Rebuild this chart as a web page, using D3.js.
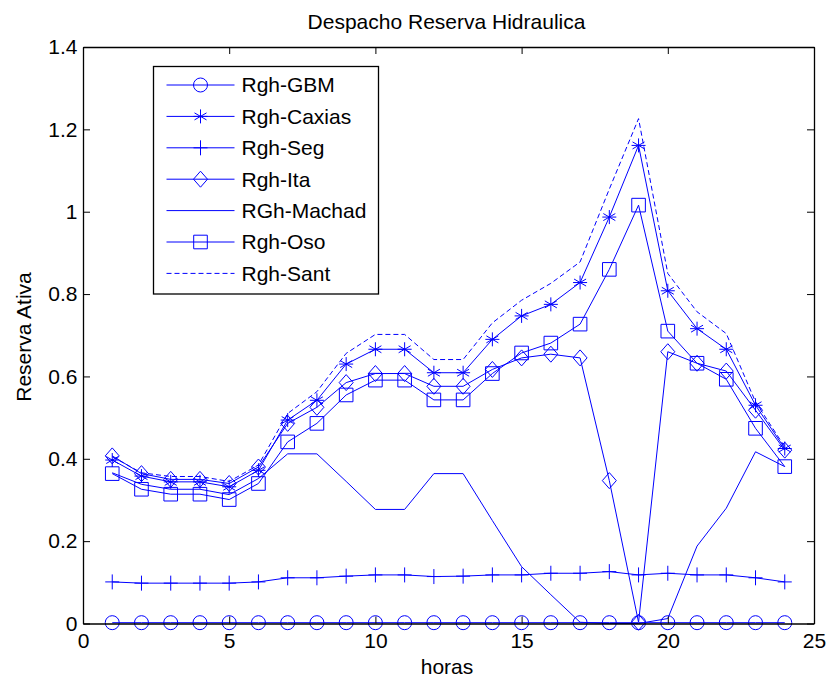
<!DOCTYPE html>
<html>
<head>
<meta charset="utf-8">
<script src="https://cdn.jsdelivr.net/npm/d3@7"></script>
<style>
  body { margin: 0; background: #fff; }
  text { font-family: Arial, "Liberation Sans", sans-serif; fill: #000; }
</style>
</head>
<body>
<svg id="vis"></svg>
<script>
// hours on the x axis
var horas = [1, 2, 3, 4, 5, 6, 7, 8, 9, 10, 11, 12, 13, 14, 15, 16, 17, 18, 19, 20, 21, 22, 23, 24];

var rghGBM    = [0.002, 0.002, 0.002, 0.002, 0.002, 0.002, 0.002, 0.002, 0.002, 0.002, 0.002, 0.002, 0.002, 0.002, 0.002, 0.002, 0.002, 0.002, 0.002, 0.002, 0.002, 0.002, 0.002, 0.002];
var rghCaxias = [0.397, 0.358, 0.344, 0.344, 0.332, 0.372, 0.494, 0.542, 0.630, 0.666, 0.666, 0.609, 0.609, 0.690, 0.747, 0.775, 0.828, 0.987, 1.161, 0.808, 0.716, 0.666, 0.530, 0.425];
var rghSeg    = [0.101, 0.098, 0.098, 0.098, 0.098, 0.101, 0.111, 0.111, 0.115, 0.118, 0.118, 0.114, 0.115, 0.118, 0.118, 0.122, 0.122, 0.126, 0.118, 0.122, 0.118, 0.118, 0.111, 0.101];
var rghIta    = [0.407, 0.364, 0.350, 0.350, 0.340, 0.380, 0.486, 0.525, 0.585, 0.607, 0.607, 0.576, 0.576, 0.617, 0.645, 0.654, 0.645, 0.347, 0.003, 0.660, 0.632, 0.613, 0.518, 0.421];
var rghMachad = [0.366, 0.338, 0.326, 0.326, 0.313, 0.352, 0.412, 0.412, 0.345, 0.277, 0.277, 0.364, 0.364, 0.250, 0.138, 0.070, 0.003, 0.000, 0.000, 0.012, 0.188, 0.280, 0.417, 0.381];
var rghOso    = [0.364, 0.326, 0.314, 0.314, 0.301, 0.340, 0.441, 0.486, 0.555, 0.591, 0.591, 0.543, 0.543, 0.607, 0.657, 0.681, 0.727, 0.860, 1.016, 0.710, 0.632, 0.593, 0.474, 0.381];
var rghSant   = [0.405, 0.366, 0.357, 0.357, 0.345, 0.385, 0.510, 0.563, 0.656, 0.702, 0.702, 0.641, 0.641, 0.730, 0.785, 0.826, 0.878, 1.055, 1.226, 0.850, 0.757, 0.704, 0.538, 0.429];

var seriesNames = ["Rgh-GBM", "Rgh-Caxias", "Rgh-Seg", "Rgh-Ita", "RGh-Machad", "Rgh-Oso", "Rgh-Sant"];
var seriesValues = [rghGBM, rghCaxias, rghSeg, rghIta, rghMachad, rghOso, rghSant];
var seriesMarkers = ["circle", "star", "plus", "diamond", "none", "square", "none"];
var seriesDashed = [false, false, false, false, false, false, true];

var xTicks = [0, 5, 10, 15, 20, 25];
var yTicks = [0, 0.2, 0.4, 0.6, 0.8, 1, 1.2, 1.4];

var blue = "#0000ff";

var margin = {top: 47, right: 13, bottom: 54.5, left: 83},
    width = 827 - margin.left - margin.right,
    height = 678 - margin.top - margin.bottom;

var root = d3.select("#vis")
    .attr("width", 827)
    .attr("height", 678);

var svg = root.append("g")
    .attr("transform", "translate(" + margin.left + "," + margin.top + ")");

var xScale = d3.scaleLinear().domain([0, 25]).range([0, width]);
var yScale = d3.scaleLinear().domain([0, 1.4]).range([height, 0]);

// marker shapes, drawn as paths centred on 0,0
function markerPath(kind) {
    switch (kind) {
        case "circle": return "M7,0A7,7 0 1,1 -7,0A7,7 0 1,1 7,0Z";
        case "square": return "M-6.8,-6.8H6.8V6.8H-6.8Z";
        case "diamond": return "M0,-8L7,0L0,8L-7,0Z";
        case "plus": return "M-7,0H7M0,-7.5V7.5";
        case "star": return "M0,-7V7M-6,-3.5L6,3.5M-6,3.5L6,-3.5M-7,0H7";
    }
    return null;
}

var line = d3.line()
    .x(function (d) { return xScale(d[0]); })
    .y(function (d) { return yScale(d[1]); });

var plot = svg.append("g");

seriesValues.forEach(function (vals, i) {
    var pts = horas.map(function (h, j) { return [h, vals[j]]; });
    plot.append("path")
        .attr("d", line(pts))
        .attr("fill", "none")
        .attr("stroke", blue)
        .attr("stroke-width", 1)
        .attr("stroke-dasharray", seriesDashed[i] ? "5,3" : null);

    var m = markerPath(seriesMarkers[i]);
    if (m) {
        plot.selectAll(".mk" + i)
            .data(pts)
            .enter().append("path")
            .attr("class", "mk" + i)
            .attr("d", m)
            .attr("transform", function (d) {
                return "translate(" + xScale(d[0]) + "," + yScale(d[1]) + ")";
            })
            .attr("fill", "none")
            .attr("stroke", blue)
            .attr("stroke-width", 1);
    }
});

// axes box with inward ticks on all four sides
var xAxis = d3.axisBottom(xScale).tickValues(xTicks).tickSizeInner(-7).tickSizeOuter(0)
    .tickPadding(9.5).tickFormat(d3.format("d"));
var yAxis = d3.axisLeft(yScale).tickValues(yTicks).tickSizeInner(-7).tickSizeOuter(0)
    .tickPadding(5.5).tickFormat(function (d) { return d3.format("")(+d.toFixed(1)); });
var xAxisTop = d3.axisTop(xScale).tickValues(xTicks).tickSizeInner(-7).tickSizeOuter(0).tickFormat("");
var yAxisRight = d3.axisRight(yScale).tickValues(yTicks).tickSizeInner(-7).tickSizeOuter(0).tickFormat("");

function styleAxis(g) {
    g.select(".domain").attr("stroke", "#000").attr("stroke-width", 1.3);
    g.selectAll(".tick line").attr("stroke", "#000").attr("stroke-width", 1);
    g.selectAll(".tick text")
        .attr("fill", "#000")
        .style("font-size", "21px")
        .style("font-family", "Arial, 'Liberation Sans', sans-serif");
}

svg.append("g").attr("transform", "translate(0," + height + ")").call(xAxis).call(styleAxis);
svg.append("g").call(yAxis).call(styleAxis);
svg.append("g").call(xAxisTop).call(styleAxis);
svg.append("g").attr("transform", "translate(" + width + ",0)").call(yAxisRight).call(styleAxis);

// title and labels
root.append("text")
    .attr("x", 446.5)
    .attr("y", 29)
    .attr("text-anchor", "middle")
    .style("font-size", "21px")
    .text("Despacho Reserva Hidraulica");

root.append("text")
    .attr("x", 447)
    .attr("y", 674)
    .attr("text-anchor", "middle")
    .style("font-size", "21px")
    .text("horas");

root.append("text")
    .attr("transform", "translate(31,337) rotate(-90)")
    .attr("text-anchor", "middle")
    .style("font-size", "21px")
    .text("Reserva Ativa");

// legend
var legend = root.append("g").attr("transform", "translate(153.5,66.5)");
legend.append("rect")
    .attr("width", 225)
    .attr("height", 227.5)
    .attr("fill", "#fff")
    .attr("stroke", "#000")
    .attr("stroke-width", 1.3);

var rows = legend.selectAll(".legend")
    .data(seriesNames)
    .enter().append("g")
    .attr("class", "legend")
    .attr("transform", function (d, i) {
        return "translate(0," + (18.5 + i * 31.4) + ")";
    });

rows.append("line")
    .attr("x1", 13).attr("x2", 81)
    .attr("stroke", blue)
    .attr("stroke-width", 1)
    .attr("stroke-dasharray", function (d, i) { return seriesDashed[i] ? "5,3" : null; });

rows.append("path")
    .attr("d", function (d, i) { return markerPath(seriesMarkers[i]); })
    .attr("transform", "translate(47,0)")
    .attr("fill", "none")
    .attr("stroke", blue)
    .attr("stroke-width", 1);

rows.append("text")
    .attr("x", 88)
    .attr("dy", "0.35em")
    .style("font-size", "21px")
    .text(function (d) { return d; });
</script>
</body>
</html>
